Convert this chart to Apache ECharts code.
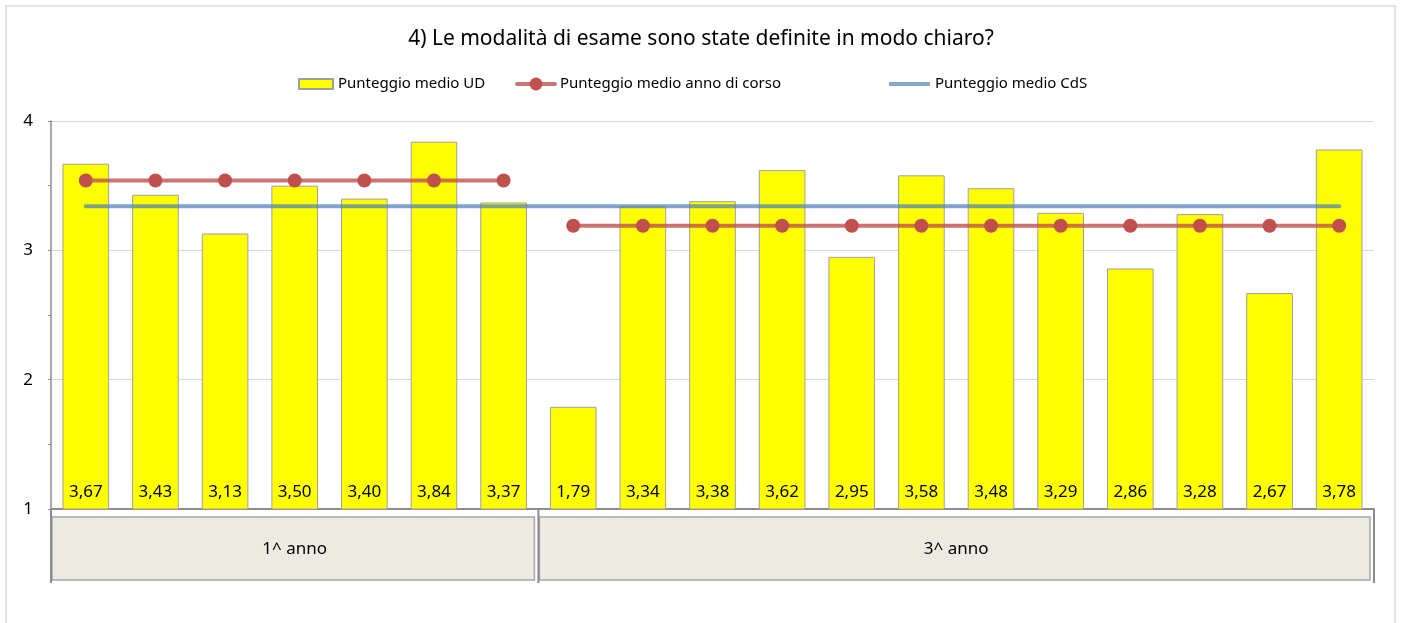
<!DOCTYPE html>
<html>
<head>
<meta charset="utf-8">
<script src="https://cdn.jsdelivr.net/npm/echarts@6/dist/echarts.min.js"></script>
<style>
  html, body { margin: 0; padding: 0; background: #fff; }
  #main { width: 1402px; height: 623px; }
</style>
</head>
<body>
<div id="main"></div>
<script>
// dati
var titolo = '4) Le modalità di esame sono state definite in modo chiaro?';
var punteggiUD = [3.67, 3.43, 3.13, 3.50, 3.40, 3.84, 3.37, 1.79, 3.34, 3.38, 3.62, 2.95, 3.58, 3.48, 3.29, 2.86, 3.28, 2.67, 3.78];
var gruppi = ['1^ anno', '3^ anno'];
var gruppiNum = [7, 12];
var mediaAnno = [3.54, 3.19];
var mediaCdS = 3.34;
var yTicks = [1, 2, 3, 4];

var nomeUD = 'Punteggio medio UD';
var nomeAnno = 'Punteggio medio anno di corso';
var nomeCdS = 'Punteggio medio CdS';

var categorie = punteggiUD.map(function(v, i) { return 'UD' + (i + 1); });

// una serie per ogni anno, null fuori dal gruppo
var serieAnno = [];
var start = 0;
for (var g = 0; g < gruppi.length; g++) {
    var d = punteggiUD.map(function() { return null; });
    for (var k = start; k < start + gruppiNum[g]; k++) d[k] = mediaAnno[g];
    serieAnno.push(d);
    start += gruppiNum[g];
}
var serieCdS = punteggiUD.map(function() { return mediaCdS; });

var font = 'Noto Sans';
var myChart = echarts.init(document.getElementById('main'));

var legendBase = {
    top: 74,
    padding: 0,
    itemWidth: 38,
    itemHeight: 10,
    itemGap: 0,
    textStyle: { fontFamily: font, fontSize: 15, color: '#000', lineHeight: 20 },
    selectedMode: false
};

var option = {
    animation: false,
    title: {
        text: titolo,
        left: 'center',
        top: 24,
        textStyle: { fontFamily: font, fontSize: 21, fontWeight: 'normal', color: '#000' }
    },
    legend: [
        Object.assign({}, legendBase, {
            left: 298, itemWidth: 34,
            data: [{ name: nomeUD, icon: 'rect' }]
        }),
        Object.assign({}, legendBase, {
            left: 515, itemWidth: 38, itemHeight: 16,
            lineStyle: { width: 4 },
            data: [nomeAnno]
        }),
        Object.assign({}, legendBase, {
            left: 889, itemWidth: 41, itemHeight: 4,
            data: [{ name: nomeCdS, icon: 'roundRect', itemStyle: { color: '#84a7d1' } }]
        })
    ],
    grid: { left: 51, right: 28, top: 121, bottom: 114 },
    xAxis: {
        type: 'category',
        data: categorie,
        axisLine: { lineStyle: { color: '#8c8c8c', width: 2 } },
        axisTick: { show: false },
        axisLabel: { show: false }
    },
    yAxis: {
        type: 'value',
        min: yTicks[0],
        max: yTicks[yTicks.length - 1],
        interval: 1,
        axisLine: { show: true, lineStyle: { color: '#8c8c8c', width: 1.5 } },
        axisTick: { show: true, length: 3, lineStyle: { color: '#8c8c8c' } },
        minorTick: { show: true, splitNumber: 2, length: 3, lineStyle: { color: '#8c8c8c' } },
        axisLabel: { fontFamily: font, fontSize: 17, color: '#000', margin: 18 },
        splitLine: { lineStyle: { color: '#d9d9d9', width: 1 } }
    },
    series: [{
        name: nomeUD,
        type: 'bar',
        data: punteggiUD,
        barWidth: '67%',
        itemStyle: { color: '#ffff00', borderColor: '#a0a0a0', borderWidth: 1 },
        label: {
            show: true,
            position: 'insideBottom',
            distance: 9,
            fontFamily: font,
            fontSize: 17,
            color: '#000',
            formatter: function(p) { return p.value.toFixed(2).replace('.', ','); }
        },
        z: 2
    }, {
        name: nomeCdS,
        type: 'line',
        data: serieCdS,
        symbol: 'none',
        lineStyle: { color: '#4f81bd', width: 4, opacity: 0.72, cap: 'round' },
        itemStyle: { color: '#84a7d1' },
        z: 3
    }].concat(serieAnno.map(function(d) {
        return {
            name: nomeAnno,
            type: 'line',
            data: d,
            symbol: 'circle',
            symbolSize: 14,
            connectNulls: false,
            lineStyle: { color: '#c0504d', width: 4, opacity: 0.8, cap: 'round' },
            itemStyle: { color: '#c0504d' },
            z: 4
        };
    }))
};
myChart.setOption(option);

// riquadri dei gruppi sotto l'asse, calcolati dalla scala delle categorie
var p0 = myChart.convertToPixel({ xAxisIndex: 0 }, 0);
var p1 = myChart.convertToPixel({ xAxisIndex: 0 }, 1);
var bw = p1 - p0;
var yAxisPx = myChart.convertToPixel({ yAxisIndex: 0 }, yTicks[0]);
var grafici = [];
grafici.push({
    type: 'rect',
    shape: { x: 6, y: 6, width: 1389, height: 700 },
    style: { fill: 'none', stroke: '#d9d9d9', lineWidth: 1.5 },
    silent: true
});
var idx = 0;
var lineeX = [p0 - bw / 2];
for (var g2 = 0; g2 < gruppi.length; g2++) {
    var xs = myChart.convertToPixel({ xAxisIndex: 0 }, idx) - bw / 2;
    var xe = myChart.convertToPixel({ xAxisIndex: 0 }, idx + gruppiNum[g2] - 1) + bw / 2;
    lineeX.push(xe);
    grafici.push({
        type: 'rect',
        shape: { x: xs + 1, y: yAxisPx + 8, width: xe - xs - 5, height: 63 },
        style: { fill: '#edebe1', stroke: '#a6a6a6', lineWidth: 1.5 },
        silent: true
    });
    grafici.push({
        type: 'text',
        x: (xs + xe) / 2,
        y: yAxisPx + 40,
        style: {
            text: gruppi[g2],
            fill: '#000',
            font: '17px "' + font + '"',
            align: 'center',
            verticalAlign: 'middle'
        },
        silent: true
    });
    idx += gruppiNum[g2];
}
lineeX.forEach(function(x) {
    grafici.push({
        type: 'line',
        shape: { x1: x, y1: yAxisPx, x2: x, y2: yAxisPx + 74 },
        style: { stroke: '#8c8c8c', lineWidth: 2 },
        silent: true
    });
});
myChart.setOption({ graphic: grafici });
</script>
</body>
</html>
